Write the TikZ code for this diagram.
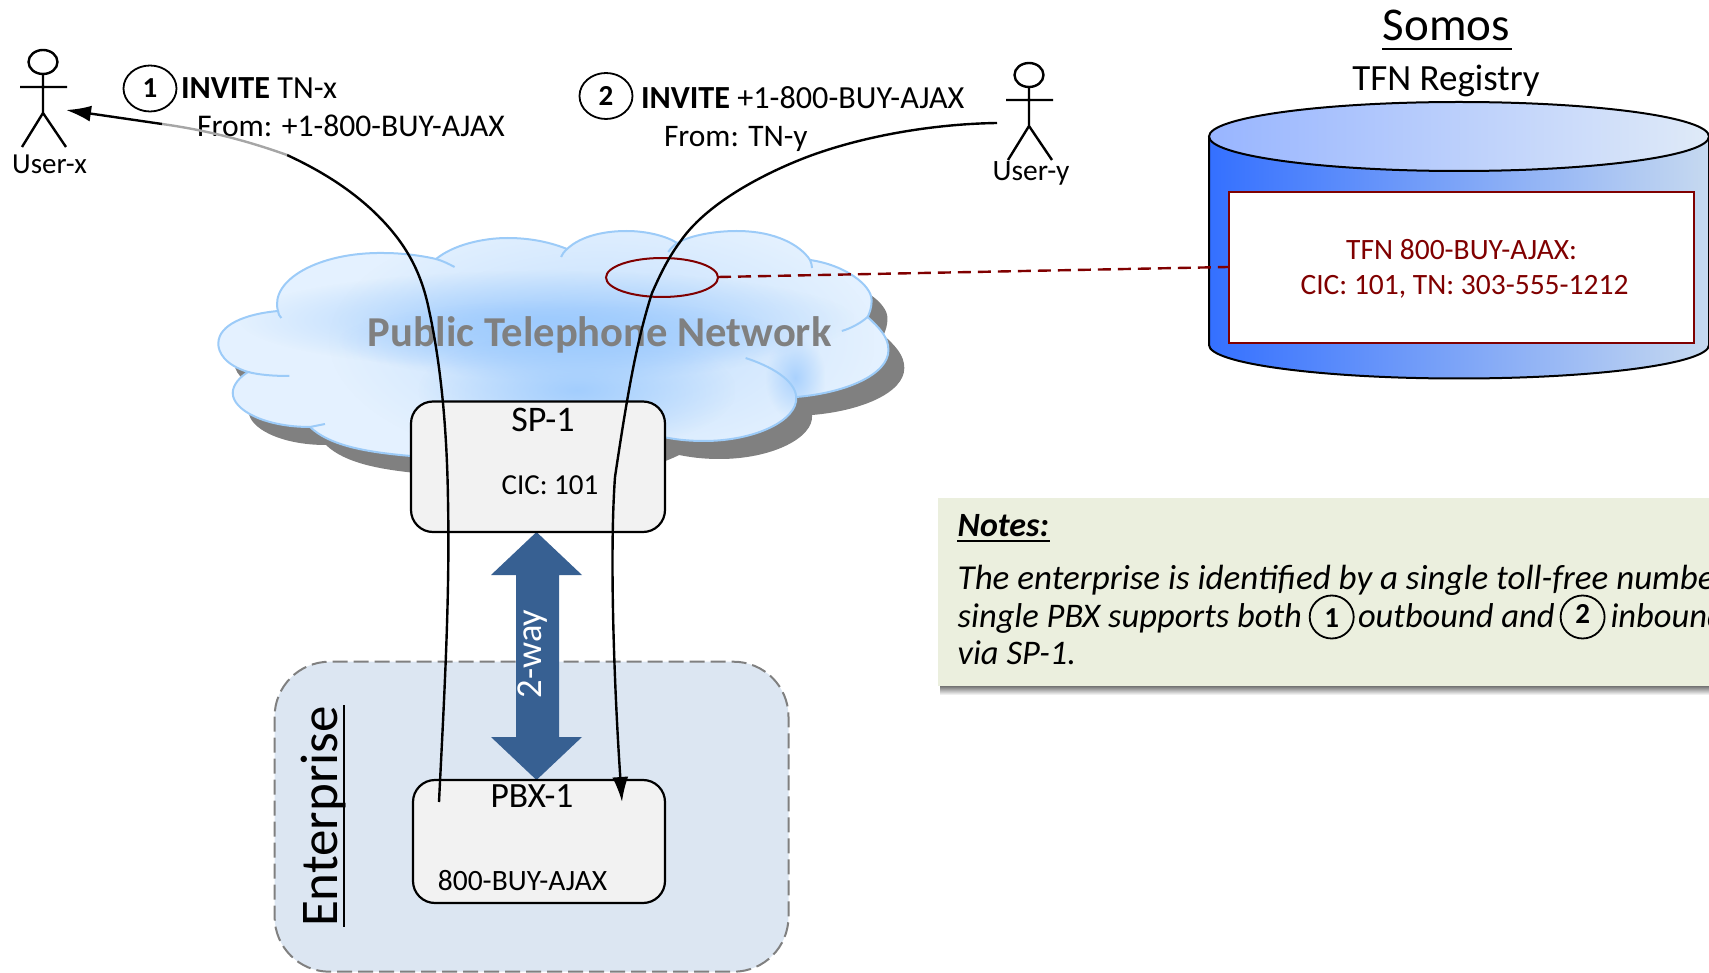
\documentclass[tikz,border=0pt]{standalone}
\usepackage{fontspec}
\setmainfont{Carlito}
\usetikzlibrary{arrows.meta,fadings,shapes.geometric}
\definecolor{cloudline}{HTML}{9CCBF8}
\definecolor{cloudbase}{HTML}{E4F1FF}
\definecolor{cloudblue}{HTML}{9ECBFD}
\definecolor{regred}{HTML}{800000}
\definecolor{boxgray}{HTML}{F2F2F2}
\definecolor{entblue}{HTML}{DCE6F2}
\definecolor{arrowblue}{HTML}{376092}
\definecolor{notegreen}{HTML}{EBEFDE}
\tikzfading[name=softblob, inner color=transparent!0, outer color=transparent!100]
\newcommand{\fs}[1]{\fontsize{#1}{#1}\selectfont}
\newcommand{\cloudshape}{
 (248.5,372) .. controls (225,365) and (218,352) .. (218.5,343)
 .. controls (219,325) and (245,314) .. (278.6,311)
 .. controls (270,280) and (320,252) .. (385,253)
 .. controls (405,253) and (425,256) .. (438,259)
 .. controls (455,245) and (485,238) .. (510,238)
 .. controls (535,238) and (555,243) .. (570,249)
 .. controls (585,235) and (610,231) .. (630,231)
 .. controls (650,231) and (670,236) .. (681,243)
 .. controls (695,235) and (720,231) .. (741,231)
 .. controls (780,231) and (805,245) .. (815,260)
 .. controls (850,265) and (877,285) .. (877,300)
 .. controls (877,308) and (875,313) .. (873,317)
 .. controls (885,328) and (894,337) .. (894,350)
 .. controls (894,375) and (850,393) .. (801,397)
 .. controls (803,420) and (760,441) .. (708,441)
 .. controls (690,441) and (677,439) .. (667,437)
 .. controls (600,470) and (480,465) .. (412.7,456)
 .. controls (365,452) and (330,445) .. (311,427)
 .. controls (265,427) and (233,410) .. (233,393)
 .. controls (233,385) and (240,377) .. (248.5,372) -- cycle}
\tikzset{
  x=1pt,y=-1pt,
  txt/.style={inner sep=0pt,outer sep=0pt,anchor=base},
  txtw/.style={inner sep=0pt,outer sep=0pt,anchor=base west},
  stepnum/.style={draw=black,line width=1.8pt,inner sep=0pt,ellipse,minimum width=53pt,minimum height=46pt,font=\fs{29}\bfseries},
  notenum/.style={draw=black,line width=1.8pt,inner sep=0pt,ellipse,minimum width=44pt,minimum height=43pt},
  roundbox/.style={draw=black,line width=2.2pt,fill=boxgray,rounded corners=22pt},
  curve/.style={draw=black,line width=2.4pt},
  headtip/.style={-{Latex[length=25pt,width=16pt]}},
  blob/.style={fill=cloudblue,path fading=softblob},
  actorline/.style={draw=black,line width=2.4pt},
  ulinepen/.style={draw=black,line width=2pt},
  cloudmap/.style={xscale=.992,xshift=1.6pt},
}
\begin{document}
\begin{tikzpicture}
\useasboundingbox (0,0) rectangle (1709,973);
\clip (0,0) rectangle (1709,973);

% cloud
\begin{scope}[cloudmap]
\fill[fill=black!50,shift={(16pt,-18pt)}] \cloudshape;
\fill[cloudbase] \cloudshape;
\begin{scope}
  \clip \cloudshape;
  \fill[blob,opacity=.5] (330,210) rectangle (880,470);
  \fill[blob] (240,270) rectangle (860,370);
  \fill[blob] (340,300) rectangle (800,380);
  \fill[blob,opacity=.9] (420,330) rectangle (740,450);
  \fill[blob,opacity=.8] (770,335) rectangle (830,420);
\end{scope}
\draw[cloudline,line width=2pt] \cloudshape;
\draw[cloudline,line width=2pt]
  (438,259) .. controls (445,261) and (451,264) .. (456.6,267)
  (570,249) .. controls (567,252) and (565,254) .. (564,257)
  (681,243) .. controls (677,246) and (674,249) .. (672,252)
  (815,260) .. controls (816,263) and (817,265) .. (817,268)
  (873,317) .. controls (866,323) and (857,328) .. (847,331)
  (801,397) .. controls (800,380) and (775,366) .. (750,358)
  (278.6,311) .. controls (279,314) and (280,316) .. (282,318)
  (248.5,372) .. controls (260,375) and (275,376) .. (290,376)
  (311,427) .. controls (316,426) and (321,425) .. (326,424);
\end{scope}

\node[txt,text=black!50,font=\fs{42.6}\bfseries] (ptn) at (599.5,347) {Public Telephone Network};

% lookup ellipse
\draw[regred,line width=2pt] (662,277.5) circle[x radius=56,y radius=19.5];
\coordinate (lookup) at (718,277);

% enterprise
\draw[fill=entblue,draw=black!50,line width=2pt,dash pattern=on 15pt off 6pt,rounded corners=55pt] (274.6,661.7) rectangle (788.5,971.7);
\node[txt,rotate=90,font=\fs{53}] (ent) at (337,816.5) {Enterprise};
\draw[ulinepen] (344.4,705) -- (344.4,927);

% 2-way
\fill[arrowblue] (536.5,532) -- (582,575) -- (559,575) -- (559,737) -- (582,737) -- (536.5,780) -- (491,737) -- (516,737) -- (516,575) -- (491,575) -- cycle;
\node[txt,rotate=90,text=white,font=\fs{36.5}] (tw) at (541,654) {2-way};

% boxes
\draw[roundbox] (411,401.5) rectangle (665,532);
\node[txt,font=\fs{36}] (sp) at (543,431.7) {SP-1};
\node[txt,font=\fs{29}] (cic) at (550,495) {CIC: 101};
\draw[roundbox] (413,780) rectangle (665,903);
\node[txt,font=\fs{35.5}] (pbx) at (532,807.7) {PBX-1};
\node[txt,font=\fs{29.5}] (num) at (522.5,890) {800-BUY-AJAX};

% registry cylinder
\shade[left color={rgb,255:red,52;green,112;blue,255},middle color={rgb,255:red,143;green,178;blue,250},right color={rgb,255:red,198;green,217;blue,240}]
  (1209,136.5) -- (1209,345) arc[start angle=180,end angle=360,x radius=250,y radius=-33.5] -- (1709,136.5) -- cycle;
\draw[black,line width=2pt] (1209,136.5) -- (1209,345) arc[start angle=180,end angle=360,x radius=250,y radius=-33.5] -- (1709,136.5);
\shade[left color={rgb,255:red,152;green,181;blue,255},middle color={rgb,255:red,197;green,215;blue,252},right color={rgb,255:red,223;green,234;blue,248}] (1459,136.5) circle[x radius=250,y radius=34.5];
\draw[black,line width=2pt] (1459,136.5) circle[x radius=250,y radius=34.5];
\node[draw=regred,line width=2pt,fill=white,minimum width=464.5pt,minimum height=151pt,inner sep=0pt,anchor=north west] (tfn) at (1228,191) {};
\node[txt,text=regred,font=\fs{29.5}] (t1) at (1461.6,260) {TFN 800-BUY-AJAX:};
\node[txt,text=regred,font=\fs{29.5}] (t2) at (1464.5,295) {CIC: 101, TN: 303-555-1212};
\coordinate (tfnin) at (1228,267);
\draw[regred,line width=2.4pt,dash pattern=on 13pt off 7pt] (lookup) -- (tfnin);

\node[txt,font=\fs{47}] (somos) at (1446.5,41) {Somos};
\draw[ulinepen] (1382,49) -- (1511.5,49);
\node[txt,font=\fs{37}] (reg) at (1446,91) {TFN Registry};

% users
\draw[actorline] (43,62) circle[x radius=14.5,y radius=12];
\draw[actorline] (43,74) -- (43,113) (20,87) -- (67,87) (22,147) -- (43,113) -- (66,147);
\node[txt,font=\fs{29}] (userx) at (49.5,174) {User-x};
\begin{scope}[shift={(986pt,-13pt)}]
\draw[actorline] (43,62) circle[x radius=14.5,y radius=12];
\draw[actorline] (43,74) -- (43,113) (20,87) -- (67,87) (22,147) -- (43,113) -- (66,147);
\end{scope}
\node[txt,font=\fs{29.5}] (usery) at (1031,181) {User-y};

% labels
\node[stepnum] (n1) at (150,88.5) {1};
\node[txtw,font=\fs{32.2}] (i1) at (181,99) {\textbf{INVITE} TN-x};
\node[txtw,font=\fs{31.6}] (f1) at (197,137) {From: +1-800-BUY-AJAX};
\node[stepnum] (n2) at (606,96) {2};
\node[txtw,font=\fs{32.2}] (i2) at (641,109) {\textbf{INVITE} +1-800-BUY-AJAX};
\node[txtw,font=\fs{31.4}] (f2) at (664,147) {From: TN-y};

% invite curves
\coordinate (pbxout) at (439,802);
\coordinate (bend) at (287,155);
\coordinate (grayend) at (162,124);
\coordinate (xin) at (66,110);
\coordinate (yout) at (997,123);
\coordinate (pbxin) at (622,802);
\draw[curve] (pbxout) .. controls (444,700) and (450,600) .. (448,500)
  .. controls (447,430) and (441,365) .. (429,310)
  .. controls (421,270) and (404,240) .. (372,210)
  .. controls (345,185) and (315,168) .. (bend);
\draw[draw=black!35,line width=2.4pt] (bend) .. controls (245,140) and (205,130) .. (grayend);
\draw[curve,headtip] (grayend) -- (xin);
\draw[curve,headtip] (yout) .. controls (930,124) and (860,137) .. (807,157)
  .. controls (760,175) and (705,205) .. (680,242)
  .. controls (668,258) and (660,275) .. (652,293)
  .. controls (637,340) and (628,390) .. (615,477)
  .. controls (609,560) and (615,700) .. (pbxin);

% notes
\shade[top color=black!55,bottom color=white] (940,686) rectangle (1709,695);
\fill[notegreen] (937.6,497.7) rectangle (1709,686);
\node[txtw,font=\fs{34}\bfseries\itshape] (nh) at (957.7,536.7) {Notes:};
\draw[ulinepen] (957,541) -- (1050,541);
\node[txtw,font=\fs{35}\itshape] (nl1) at (957.7,589) {The enterprise is identified by a single toll-free number};
\node[txtw,font=\fs{34.5}\itshape] (nl2a) at (957.7,627) {single PBX supports both};
\node[notenum] (c1) at (1331.7,617) {};
\node[txt,font=\fs{29}\bfseries] (c1t) at (1331.7,627) {1};
\node[txtw,font=\fs{34.5}\itshape] (nl2b) at (1358,627) {outbound and};
\node[notenum] (c2) at (1582.6,617) {};
\node[txt,font=\fs{29}\bfseries] (c2t) at (1582.6,623) {2};
\node[txtw,font=\fs{34.5}\itshape] (nl2c) at (1610.5,627) {inbound};
\node[txtw,font=\fs{34.5}\itshape] (nl3) at (957.7,664) {via SP-1.};
\end{tikzpicture}
\end{document}
